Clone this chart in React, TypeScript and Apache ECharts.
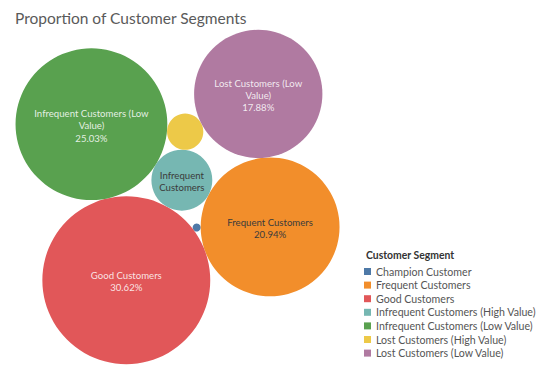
import React, { useEffect, useRef } from "react";
import * as echarts from "echarts";

// ---- data ----
const segments = [
  "Champion Customer",
  "Frequent Customers",
  "Good Customers",
  "Infrequent Customers (High Value)",
  "Infrequent Customers (Low Value)",
  "Lost Customers (High Value)",
  "Lost Customers (Low Value)",
];
const shares = [0.07, 20.94, 30.62, 4.03, 25.03, 1.43, 17.88];
const colors = ["#4e79a7", "#f28e2b", "#e15759", "#76b7b2", "#59a14f", "#edc948", "#b07aa1"];
const bubbleLabels = [
  "",
  "Frequent Customers",
  "Good Customers",
  "Infrequent\nCustomers",
  "Infrequent Customers (Low\nValue)",
  "",
  "Lost Customers (Low\nValue)",
];
const showShare = [false, true, true, false, true, false, true];
const darkText = [false, true, false, true, false, true, false];

// packing order: each bubble touches the listed neighbours (side = which side of a->b)
const packing: { seg: number; from?: number; angle?: number; a?: number; b?: number; side?: number }[] = [
  { seg: 2 },
  { seg: 4, from: 2, angle: 102.6 },
  { seg: 3, a: 2, b: 4, side: -1 },
  { seg: 1, a: 2, b: 3, side: -1 },
  { seg: 5, a: 4, b: 3, side: 1 },
  { seg: 6, a: 5, b: 1, side: 1 },
  { seg: 0, a: 2, b: 1, side: 1 },
];

type C = { x: number; y: number; r: number };

function pack(): C[] {
  const pos: C[] = new Array(segments.length);
  for (const s of packing) {
    const r = Math.sqrt(shares[s.seg]);
    if (s.from === undefined && s.a === undefined) {
      pos[s.seg] = { x: 0, y: 0, r };
    } else if (s.from !== undefined) {
      const A = pos[s.from];
      const d = A.r + r;
      const t = ((s.angle as number) * Math.PI) / 180;
      pos[s.seg] = { x: A.x + d * Math.cos(t), y: A.y + d * Math.sin(t), r };
    } else {
      const A = pos[s.a as number];
      const B = pos[s.b as number];
      const d1 = A.r + r;
      const d2 = B.r + r;
      const dx = B.x - A.x;
      const dy = B.y - A.y;
      const D = Math.hypot(dx, dy);
      const ux = dx / D;
      const uy = dy / D;
      const along = (d1 * d1 - d2 * d2 + D * D) / (2 * D);
      const h = Math.sqrt(Math.max(0, d1 * d1 - along * along));
      const side = s.side as number;
      pos[s.seg] = { x: A.x + along * ux - side * h * uy, y: A.y + along * uy + side * h * ux, r };
    }
  }
  return pos;
}

const W = 547;
const H = 378;
const PX_PER_UNIT = 15.17;
const ORIGIN = [126.3, 280.2];
const FONT = "Lato, 'Open Sans', sans-serif";

export default function App() {
  const ref = useRef<HTMLDivElement>(null);
  useEffect(() => {
    document.body.style.margin = "0";
    if (!ref.current) return;
    const chart = echarts.init(ref.current, undefined, { renderer: "svg" });
    const pos = pack();
    const series = segments.map((name, i) => ({
      type: "custom",
      name,
      coordinateSystem: "cartesian2d",
      itemStyle: { color: colors[i] },
      data: [[pos[i].x, pos[i].y, pos[i].r]],
      renderItem: (params: any, api: any) => {
        const c = api.coord([api.value(0), api.value(1)]);
        const rp = api.size([api.value(2), 0])[0];
        const text = bubbleLabels[i] + (showShare[i] ? `\n${shares[i].toFixed(2)}%` : "");
        const children: any[] = [
          {
            type: "circle",
            shape: { cx: c[0], cy: c[1], r: rp },
            style: { fill: colors[i] },
          },
        ];
        if (text) {
          children.push({
            type: "text",
            x: c[0],
            y: c[1] + 1.5,
            style: {
              text,
              align: "center",
              verticalAlign: "middle",
              fontSize: 9.6,
              lineHeight: 12.3,
              fontFamily: FONT,
              fill: darkText[i] ? "#3b3b3b" : "rgba(255,255,255,0.85)",
            },
          });
        }
        return { type: "group", children };
      },
    }));
    chart.setOption({
      animation: false,
      title: [
        {
          text: "Proportion of Customer Segments",
          left: 10,
          top: 5,
          textStyle: { fontSize: 15.5, fontWeight: "normal", color: "#5a5a5a", fontFamily: FONT },
        },
        {
          text: "Customer Segment",
          left: 361,
          top: 245,
          textStyle: { fontSize: 10.4, fontWeight: "bold", color: "#333", fontFamily: FONT },
        },
      ],
      legend: {
        orient: "vertical",
        left: 364,
        top: 265.5,
        padding: 0,
        itemWidth: 7,
        itemHeight: 7,
        itemGap: 1.6,
        icon: "rect",
        selectedMode: false,
        data: segments,
        textStyle: { fontSize: 10.6, lineHeight: 12, color: "#555", fontFamily: FONT },
      },
      grid: { left: 0, top: 0, width: W, height: H },
      xAxis: {
        type: "value",
        min: -ORIGIN[0] / PX_PER_UNIT,
        max: (W - ORIGIN[0]) / PX_PER_UNIT,
        show: false,
      },
      yAxis: {
        type: "value",
        min: -(H - ORIGIN[1]) / PX_PER_UNIT,
        max: ORIGIN[1] / PX_PER_UNIT,
        show: false,
      },
      series,
    });
    return () => chart.dispose();
  }, []);
  return <div ref={ref} style={{ width: W, height: H }} />;
}
